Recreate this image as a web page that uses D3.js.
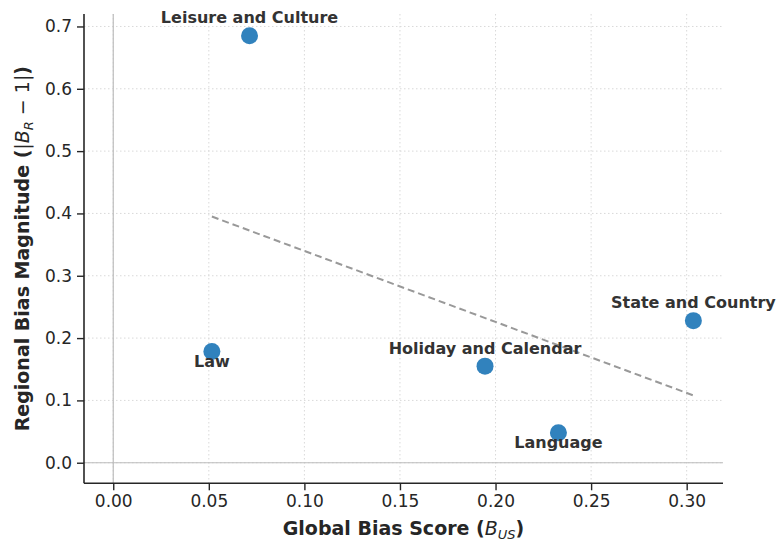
<!DOCTYPE html>
<html><head><meta charset="utf-8">
<script src="https://cdn.jsdelivr.net/npm/d3@7"></script>
<style>body{margin:0;background:#fff}</style>
</head><body>
<svg id="c" width="778" height="546"></svg>
<script>
const categories = ["Leisure and Culture","Law","Holiday and Calendar","Language","State and Country"];
const globalBias = [0.0713, 0.0516, 0.1945, 0.2329, 0.3035];
const regionalBias = [0.685, 0.1785, 0.155, 0.0482, 0.228];
const labelAbove = [true, false, true, false, true];
const trendX = [0.0516, 0.3035];
const trendY = [0.395, 0.108];
const xTicks = [0.00,0.05,0.10,0.15,0.20,0.25,0.30];
const yTicks = [0.0,0.1,0.2,0.3,0.4,0.5,0.6,0.7];

const svg = d3.select("#c");
const L = 84, R = 723, T = 14, B = 483.3;
const x = d3.scaleLinear().domain([-0.0153, 0.319]).range([L, R]);
const y = d3.scaleLinear().domain([-0.033, 0.72]).range([B, T]);
const font = "DejaVu Sans, sans-serif";
const dark = "#262626";

// grid
const g = svg.append("g");
g.selectAll("line.gx").data(xTicks).join("line")
  .attr("x1", d=>x(d)).attr("x2", d=>x(d)).attr("y1", T).attr("y2", B)
  .attr("stroke", "#d9d9d9").attr("stroke-width", 1).attr("stroke-dasharray", "1.5,2.5");
g.selectAll("line.gy").data(yTicks).join("line")
  .attr("y1", d=>y(d)).attr("y2", d=>y(d)).attr("x1", L).attr("x2", R)
  .attr("stroke", "#d9d9d9").attr("stroke-width", 1).attr("stroke-dasharray", "1.5,2.5");
// zero lines
svg.append("line").attr("x1", x(0)).attr("x2", x(0)).attr("y1", T).attr("y2", B)
  .attr("stroke", "#bdbdbd").attr("stroke-width", 1.2);
svg.append("line").attr("y1", y(0)).attr("y2", y(0)).attr("x1", L).attr("x2", R)
  .attr("stroke", "#bdbdbd").attr("stroke-width", 1.2);

// trend
svg.append("line").attr("x1", x(trendX[0])).attr("y1", y(trendY[0]))
  .attr("x2", x(trendX[1])).attr("y2", y(trendY[1]))
  .attr("stroke", "#999").attr("stroke-width", 2).attr("stroke-dasharray", "7,4");

// axes
const xAxis = d3.axisBottom(x).tickValues(xTicks).tickFormat(d3.format(".2f")).tickSize(7).tickPadding(5);
const yAxis = d3.axisLeft(y).tickValues(yTicks).tickFormat(d3.format(".1f")).tickSize(7).tickPadding(5);
const gx = svg.append("g").attr("transform", `translate(0,${B})`).call(xAxis);
const gy = svg.append("g").attr("transform", `translate(${L},0)`).call(yAxis);
[gx, gy].forEach(a => {
  a.select(".domain").attr("stroke", dark).attr("stroke-width", 1.6);
  a.selectAll(".tick line").attr("stroke", dark).attr("stroke-width", 1.4);
  a.selectAll(".tick text").attr("fill", dark).style("font-family", font).style("font-size", "17px");
});
gx.select(".domain").attr("d", `M${L},0H${R}`);
gy.select(".domain").attr("d", `M0,${B}V${T}`);

// points
const data = categories.map((c,i)=>({c, x: globalBias[i], y: regionalBias[i], above: labelAbove[i]}));
svg.selectAll("circle.p").data(data).join("circle")
  .attr("cx", d=>x(d.x)).attr("cy", d=>y(d.y)).attr("r", 8.5)
  .attr("fill", "#3182bd");
svg.selectAll("text.lab").data(data).join("text")
  .attr("x", d=>x(d.x)).attr("y", d=>y(d.y) + (d.above ? -12.5 : 15.5))
  .attr("text-anchor", "middle").attr("fill", "#333")
  .style("font-family", font).style("font-size", "16px").style("font-weight", "bold")
  .text(d=>d.c);

// axis titles
const cx = (L + R) / 2, cy = (T + B) / 2;
const xt = svg.append("text").attr("x", cx).attr("y", 535).attr("text-anchor", "middle")
  .attr("fill", dark).style("font-family", font).style("font-size", "19px").style("font-weight", "bold");
xt.append("tspan").text("Global Bias Score (");
xt.append("tspan").text("B").style("font-style", "italic").style("font-weight", "normal");
xt.append("tspan").text("US").style("font-style", "italic").style("font-weight", "normal")
  .style("font-size", "13px").attr("dy", 4);
xt.append("tspan").text(")").attr("dy", -4);

const yt = svg.append("text").attr("transform", `translate(29,${cy}) rotate(-90)`).attr("text-anchor", "middle")
  .attr("fill", dark).style("font-family", font).style("font-size", "19px").style("font-weight", "bold");
yt.append("tspan").text("Regional Bias Magnitude (");
yt.append("tspan").text("|").style("font-weight", "normal");
yt.append("tspan").text("B").style("font-style", "italic").style("font-weight", "normal");
yt.append("tspan").text("R").style("font-style", "italic").style("font-weight", "normal")
  .style("font-size", "13px").attr("dy", 4);
yt.append("tspan").text(" − 1|").style("font-weight", "normal").attr("dy", -4);
yt.append("tspan").text(")");
</script>
</body></html>
